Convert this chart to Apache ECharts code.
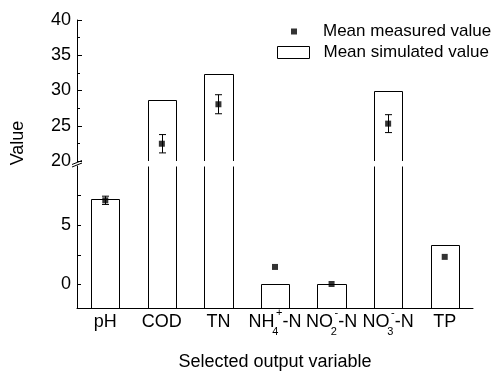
<!DOCTYPE html>
<html>
<head>
<meta charset="utf-8">
<script src="https://cdn.jsdelivr.net/npm/echarts@6/dist/echarts.min.js"></script>
<style>
  html, body { margin: 0; padding: 0; background: #fff; }
  #chart { width: 494px; height: 373px; }
</style>
</head>
<body>
<div id="chart"></div>
<script>
// 数据
var categories = ['pH', 'COD', 'TN', 'NH4+-N', 'NO2--N', 'NO3--N', 'TP'];
var simulated = [7.25, 28.6, 32.4, 0.05, 0.05, 29.95, 3.3];
var measured = [7.1, 22.45, 28.05, 1.47, 0.03, 25.3, 2.32];
var measuredErr = [0.35, 1.3, 1.35, 0, 0, 1.27, 0];
var upperTicks = [20, 25, 30, 35, 40];
var lowerRange = [-2, 10];
var lowerTicks = [0, 5];
var lowerTickMarks = [0, 2.5, 5, 7.5];

var FONT = 'Liberation Sans, Arial, sans-serif';
var FS = 18;      // 坐标轴文字
var FS_LEG = 17;  // 图例文字
var chart = echarts.init(document.getElementById('chart'));

// 柱子：底部从坐标轴最小值开始，超出范围时只画两条竖线
function barRender(lo, hi) {
  return function (params, api) {
    var i = api.value(0);
    var v = api.value(1);
    if (v <= lo) return;
    var half = api.size([1, 0])[0] * 0.25;
    var x = api.coord([i, lo])[0];
    var xl = Math.round(x - half) + 0.5;
    var xr = Math.round(x + half) + 0.5;
    var yb = api.coord([i, lo])[1];
    var yt = Math.round(api.coord([i, Math.min(v, hi)])[1]) + 0.5;
    var line = { stroke: '#000', lineWidth: 1, fill: null };
    var children = [{
      type: 'rect',
      shape: { x: xl, y: yt, width: xr - xl, height: yb - yt },
      style: { fill: '#fff' }
    }];
    if (v < hi) {
      children.push({
        type: 'polyline',
        shape: { points: [[xl, yb], [xl, yt], [xr, yt], [xr, yb]] },
        style: line
      });
    } else {
      children.push({ type: 'line', shape: { x1: xl, y1: yb, x2: xl, y2: yt }, style: line });
      children.push({ type: 'line', shape: { x1: xr, y1: yb, x2: xr, y2: yt }, style: line });
    }
    return { type: 'group', children: children };
  };
}

// 误差线
function errRender(params, api) {
  var i = api.value(0);
  var v = api.value(1);
  var e = api.value(2);
  if (!e) return;
  var top = api.coord([i, v + e]);
  var bot = api.coord([i, v - e]);
  var x = Math.round(top[0]) + 0.5;
  var cap = 3.5;
  var line = { stroke: '#000', lineWidth: 1 };
  return {
    type: 'group',
    children: [
      { type: 'line', shape: { x1: x, y1: top[1], x2: x, y2: bot[1] }, style: line },
      { type: 'line', shape: { x1: x - cap, y1: top[1], x2: x + cap, y2: top[1] }, style: line },
      { type: 'line', shape: { x1: x - cap, y1: bot[1], x2: x + cap, y2: bot[1] }, style: line }
    ]
  };
}

var barData = simulated.map(function (v, i) { return [i, v]; });
var measData = measured.map(function (v, i) { return [i, v, measuredErr[i]]; });

// 上下标叠在一起
function labelFormatter(name) {
  var m = /^(N[HO])(\d)([+-])-N$/.exec(name);
  if (!m) return '{m|' + name + '}';
  return '{m|' + m[1] + '}{sub|' + m[2] + '}{sup|' + m[3] + '}{m|-N}';
}

var option = {
  animation: false,
  textStyle: { fontFamily: FONT, color: '#000' },
  grid: [
    { left: 77, right: 21, top: 20, bottom: 212 },
    { left: 77, right: 21, top: 166, bottom: 65 }
  ],
  legend: [
    {
      data: [{ name: 'Mean measured value', icon: 'rect' }],
      left: 286, top: 18,
      itemWidth: 6, itemHeight: 6,
      selectedMode: false,
      formatter: function (name) { return '{t|' + name + '}'; },
      textStyle: { rich: { t: { fontSize: FS_LEG, fontFamily: FONT, color: '#000', padding: [0, 0, 0, 21] } } }
    },
    {
      data: [{ name: 'Mean simulated value', icon: 'rect', itemStyle: { color: '#fff', borderColor: '#000', borderWidth: 1 } }],
      left: 272, top: 39,
      itemWidth: 32, itemHeight: 12,
      selectedMode: false,
      formatter: function (name) { return '{t|' + name + '}'; },
      textStyle: { rich: { t: { fontSize: FS_LEG, fontFamily: FONT, color: '#000', padding: [0, 0, 0, 9] } } }
    }
  ],
  xAxis: [
    { type: 'category', gridIndex: 0, data: categories, show: false },
    {
      type: 'category', gridIndex: 1, data: categories, position: 'bottom',
      name: 'Selected output variable', nameLocation: 'middle', nameGap: 45,
      nameTextStyle: { fontSize: FS, fontFamily: FONT, color: '#000' },
      axisLine: { onZero: false, lineStyle: { color: '#000', width: 1 } },
      axisTick: { inside: true, length: 3, interval: 0, lineStyle: { color: '#000' } },
      axisLabel: {
        interval: 0, margin: 14, verticalAlign: 'middle', color: '#000',
        formatter: labelFormatter,
        rich: {
          m: { fontSize: FS, fontFamily: FONT, color: '#000' },
          sub: { fontSize: 11, fontFamily: FONT, color: '#000', width: 1.5, align: 'left', padding: [20, 0, 0, 0] },
          sup: { fontSize: 11, fontFamily: FONT, color: '#000', padding: [0, 0, 18, 0] }
        }
      }
    },
    {
      type: 'category', gridIndex: 1, data: categories, position: 'bottom',
      axisLine: { show: false, onZero: false },
      axisTick: { inside: true, length: 3, interval: 0, alignWithLabel: true, lineStyle: { color: '#000' } },
      axisLabel: { show: false }
    }
  ],
  yAxis: [
    {
      type: 'value', gridIndex: 0,
      min: upperTicks[0], max: upperTicks[upperTicks.length - 1], interval: 5,
      axisLine: { show: true, lineStyle: { color: '#000' } },
      axisTick: { show: true, inside: true, length: 5, lineStyle: { color: '#000' } },
      minorTick: { show: true, splitNumber: 2, length: 3, lineStyle: { color: '#000' } },
      axisLabel: { fontSize: FS, margin: 6, color: '#000', customValues: upperTicks },
      splitLine: { show: false }
    },
    {
      type: 'value', gridIndex: 1,
      min: lowerRange[0], max: lowerRange[1],
      axisLine: { show: true, onZero: false, lineStyle: { color: '#000' } },
      axisTick: { show: true, inside: true, length: 4, customValues: lowerTickMarks, lineStyle: { color: '#000' } },
      axisLabel: { fontSize: FS, margin: 6, color: '#000', customValues: lowerTicks },
      splitLine: { show: false }
    }
  ],
  series: [
    {
      name: 'Mean simulated value', type: 'custom', xAxisIndex: 0, yAxisIndex: 0,
      renderItem: barRender(upperTicks[0], upperTicks[upperTicks.length - 1]),
      encode: { x: 0, y: 1 }, data: barData, clip: true, z: 2
    },
    {
      name: 'Mean simulated value', type: 'custom', xAxisIndex: 1, yAxisIndex: 1,
      renderItem: barRender(lowerRange[0], lowerRange[1]),
      encode: { x: 0, y: 1 }, data: barData, clip: true, z: 2
    },
    {
      type: 'custom', xAxisIndex: 0, yAxisIndex: 0, renderItem: errRender,
      encode: { x: 0, y: 1 }, data: measData, clip: true, z: 3
    },
    {
      type: 'custom', xAxisIndex: 1, yAxisIndex: 1, renderItem: errRender,
      encode: { x: 0, y: 1 }, data: measData, clip: true, z: 3
    },
    {
      name: 'Mean measured value', type: 'scatter', xAxisIndex: 0, yAxisIndex: 0,
      symbol: 'rect', symbolSize: 6, itemStyle: { color: '#000' },
      data: measData, clip: true, z: 4
    },
    {
      name: 'Mean measured value', type: 'scatter', xAxisIndex: 1, yAxisIndex: 1,
      symbol: 'rect', symbolSize: 6, itemStyle: { color: '#000' },
      data: measData, clip: true, z: 4
    }
  ]
};

chart.setOption(option);

// 断轴标记和纵轴标题
var yUp = chart.convertToPixel({ yAxisIndex: 0 }, upperTicks[0]);
var yLow = chart.convertToPixel({ yAxisIndex: 1 }, lowerRange[1]);
var yMid = (yUp + yLow) / 2;
var xAxisPx = 77;
chart.setOption({
  graphic: [
    { type: 'line', z: 100, shape: { x1: xAxisPx - 5, y1: yMid + 1, x2: xAxisPx + 5, y2: yMid - 3 }, style: { stroke: '#000', lineWidth: 1 } },
    { type: 'line', z: 100, shape: { x1: xAxisPx - 5, y1: yMid + 3.5, x2: xAxisPx + 5, y2: yMid - 0.5 }, style: { stroke: '#000', lineWidth: 1 } },
    {
      type: 'text', z: 100, x: 18, y: 143, rotation: Math.PI / 2,
      style: { text: 'Value', fontSize: FS, fontFamily: FONT, fill: '#000', align: 'center', verticalAlign: 'middle' }
    }
  ]
});
</script>
</body>
</html>
